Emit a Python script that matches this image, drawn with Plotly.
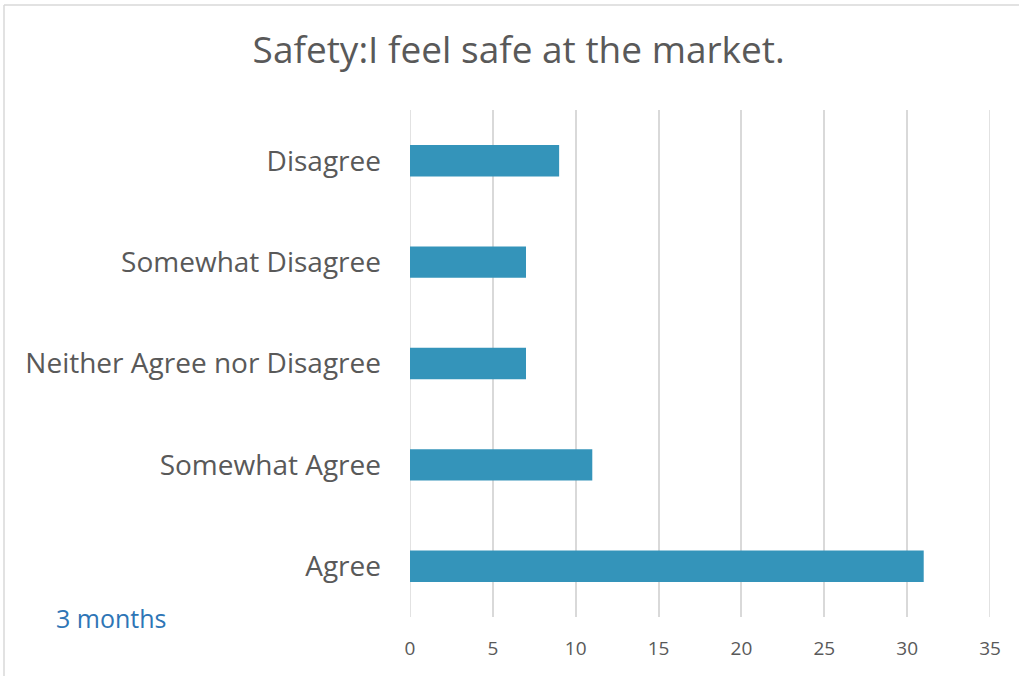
import plotly.graph_objects as go

categories = ['Agree', 'Somewhat Agree', 'Neither Agree nor Disagree',
              'Somewhat Disagree', 'Disagree']
counts = [31, 11, 7, 7, 9]
x_ticks = [0, 5, 10, 15, 20, 25, 30, 35]

W, H = 1019, 676
left, right, top, bottom = 410, 29, 110, 59
pw, ph = W - left - right, H - top - bottom

fig = go.Figure()
fig.add_trace(go.Bar(x=counts, y=categories, orientation='h',
                     marker=dict(color='#3494BA', line=dict(width=0)),
                     width=0.31))

# pixel -> paper helpers
def px_x(p):
    return (p - left) / pw

def px_y(p):
    return (H - bottom - p) / ph

grid = dict(color='#D9D9D9', width=1.5)
# edge gridlines (plotly hides grid at the range ends)
for v in (x_ticks[0], x_ticks[-1]):
    fig.add_shape(type='line', xref='x', yref='paper', x0=v, x1=v, y0=0, y1=1,
                  line=grid, layer='below')

# chart border (left and top edges visible)
fig.add_shape(type='line', xref='paper', yref='paper',
              x0=px_x(4), x1=px_x(4), y0=px_y(5), y1=px_y(676), line=grid)
fig.add_shape(type='line', xref='paper', yref='paper',
              x0=px_x(4), x1=px_x(1019), y0=px_y(5), y1=px_y(5), line=grid)

fig.add_annotation(text='3 months', xref='paper', yref='paper',
                   x=px_x(54), y=px_y(618), xanchor='left', yanchor='middle',
                   showarrow=False,
                   font=dict(family='Open Sans', size=25, color='#2E75B6'))

fig.update_layout(
    width=W, height=H,
    margin=dict(l=left, r=right, t=top, b=bottom),
    paper_bgcolor='white', plot_bgcolor='white',
    title=dict(text='Safety:I feel safe at the market.', x=0.509, xanchor='center',
               y=1 - 50 / H, yanchor='middle',
               font=dict(family='Open Sans', size=37, color='#595959')),
    font=dict(family='Open Sans', color='#595959'),
    showlegend=False,
    xaxis=dict(range=[0, 35], tickvals=x_ticks, showgrid=True,
               gridcolor='#D9D9D9', gridwidth=1.5, zeroline=False,
               showline=False, ticklabelstandoff=18,
               tickfont=dict(size=19, color='#595959')),
    yaxis=dict(showgrid=False, showline=False, zeroline=False,
               ticklabelstandoff=28,
               tickfont=dict(size=28, color='#595959')),
)

fig.write_html('out.html', config={'displayModeBar': False},
               post_script="document.body.style.margin='0';")
